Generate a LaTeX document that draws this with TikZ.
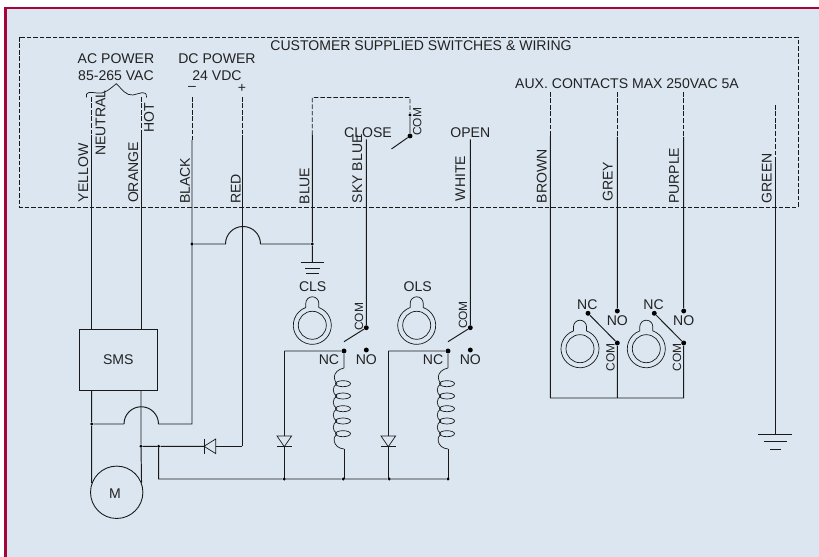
\documentclass[tikz,border=0pt]{standalone}
\usepackage{fontspec}
\setmainfont{Liberation Sans}
\usepackage{tikz}
\definecolor{panelblue}{HTML}{DBE6F0}
\definecolor{panelred}{HTML}{A6053A}
\definecolor{inktext}{HTML}{222222}
\tikzset{
  wire/.style={black!90, line width=0.55pt},
  supplied/.style={black!90, line width=0.5pt, dash pattern=on 2.6pt off 1.1pt},
  thin wire/.style={black!90, line width=0.4pt},
  dot/.style={circle, fill=black, inner sep=0pt, minimum size=1.8pt},
  bigdot/.style={circle, fill=black, inner sep=0pt, minimum size=2.8pt},
  lab/.style={text=inktext, font=\fontsize{8}{9.5}\selectfont, align=center},
  vlab/.style={lab, rotate=90},
  comlab/.style={text=inktext, font=\fontsize{6.8}{8}\selectfont, rotate=90}
}
\begin{document}
\begin{tikzpicture}[scale=0.2]
\tikzstyle{every node}+=[inner sep=0pt]
\useasboundingbox (0,0) rectangle (81.9,-55.7);
\fill [white] (0,0) rectangle (81.9,-55.7);
\fill [panelred] (0.4,-0.7) rectangle (81.9,-55.7);
\fill [panelblue] (0.7,-0.95) rectangle (81.9,-55.7);
\draw [supplied] (1.9,-3.7) rectangle (79.8,-20.7);
% titles
\draw (42.1,-4.6) node (title) [lab] {CUSTOMER SUPPLIED SWITCHES \& WIRING};
\draw (11.6,-6.75) node (acpower) [lab] {AC POWER\\85-265 VAC};
\draw (21.7,-6.75) node (dcpower) [lab] {DC POWER\\24 VDC};
\draw (62.7,-8.4) node (aux) [lab] {AUX. CONTACTS MAX 250VAC 5A};
\draw (19.2,-8.85) node (minus) [lab] {--};
\draw (24.2,-8.85) node (plus) [lab] {+};
% wire ends
\coordinate (yellowtop) at (9.17,-9.7);
\coordinate (yellowmid) at (9.17,-13.5);
\coordinate (orangetop) at (14.1,-9.7);
\coordinate (orangemid) at (14.1,-13.3);
\coordinate (blacktop) at (19.2,-9.7);
\coordinate (blackmid) at (19.2,-14);
\coordinate (redtop) at (24.2,-9.7);
\coordinate (redmid) at (24.2,-13.5);
\coordinate (bluemid) at (31.23,-13.5);
\coordinate (bluetop) at (31.23,-9.75);
\coordinate (comtop) at (41,-9.75);
\coordinate (brownmid) at (55.03,-13.6);
\coordinate (browntop) at (55.03,-9.2);
\coordinate (greymid) at (61.73,-13.7);
\coordinate (greytop) at (61.73,-9.2);
\coordinate (purplemid) at (68.37,-13.7);
\coordinate (purpletop) at (68.37,-9.2);
\coordinate (greenmid) at (77.53,-16.2);
\coordinate (greentop) at (77.53,-10.5);
\coordinate (skytop) at (36.63,-13.95);
\coordinate (whitetop) at (47.03,-13.95);
% dashed wires
\draw [supplied] (yellowtop) -- (yellowmid);
\draw [supplied] (orangetop) -- (orangemid);
\draw [supplied] (blacktop) -- (blackmid);
\draw [supplied] (redtop) -- (redmid);
\draw (41,-11.5) node (comdot) [dot] {};
\draw [supplied] (bluemid) -- (bluetop) -- (comtop) -- (comdot);
\draw [supplied] (browntop) -- (brownmid);
\draw [supplied] (greytop) -- (greymid);
\draw [supplied] (purpletop) -- (purplemid);
\draw [supplied] (greentop) -- (greenmid);
% brace
\draw [thin wire] (8.65,-9.75) .. controls (8.5,-9.15) and (9,-9.2) .. (9.7,-9.3) .. controls (10.4,-9.45) and (11,-8.9) .. (11.63,-8.37) .. controls (12.2,-8.9) and (12.6,-9.6) .. (13.3,-9.5) .. controls (13.9,-9.4) and (14.7,-8.9) .. (14.65,-9.75);
% close switch
\draw (41,-13.6) node (closecom) [bigdot] {};
\coordinate (closearm) at (39.15,-14.9);
\draw [wire] (comdot) -- (closecom);
\draw [wire] (closecom) -- (closearm);
\draw (41.73,-12.17) node (closecomlab) [comlab] {COM};
\draw (36.8,-13.25) node (close) [lab] {CLOSE};
\draw (47.03,-13.25) node (open) [lab] {OPEN};
% colour names
\draw (8.33,-17.3) node (yellowlab) [vlab] {YELLOW};
\draw (10.07,-12.3) node (neutrallab) [vlab] {NEUTRAL};
\draw (13.33,-17.25) node (orangelab) [vlab] {ORANGE};
\draw (14.9,-11.8) node (hotlab) [vlab] {HOT};
\draw (18.5,-18.08) node (blacklab) [vlab] {BLACK};
\draw (23.57,-18.9) node (redlab) [vlab] {RED};
\draw (30.47,-18.6) node (bluelab) [vlab] {BLUE};
\draw (35.73,-16.87) node (skylab) [vlab] {SKY BLUE};
\draw (46.03,-17.85) node (whitelab) [vlab] {WHITE};
\draw (54.17,-17.63) node (brownlab) [vlab] {BROWN};
\draw (60.77,-18.17) node (greylab) [vlab] {GREY};
\draw (67.4,-17.58) node (purplelab) [vlab] {PURPLE};
\draw (76.67,-17.83) node (greenlab) [vlab] {GREEN};
% motor side
\draw (11.83,-35.96) node (sms) [draw=black!90, line width=0.55pt, minimum width=44.2pt, minimum height=34.8pt, lab] {SMS};
\draw (11.67,-49.23) node (motor) [draw=black!90, line width=0.5pt, circle, minimum size=29.8pt] {};
\draw (11.5,-49.4) node (mlab) [lab] {M};
\draw (9.17,-42.4) node (neutraljoin) [dot] {};
\draw (14.1,-44.63) node (hotjoin) [dot] {};
\draw (15.87,-44.63) node (busjoin) [dot] {};
\coordinate (blackend) at (19.2,-42.4);
\coordinate (redend) at (24.2,-44.63);
\coordinate (hump1) at (15.85,-42.4);
\coordinate (hump1end) at (12.4,-42.4);
\draw [wire] (yellowmid) -- (yellowmid |- sms.north);
\draw [wire] (orangemid) -- (orangemid |- sms.north);
\draw [wire] (yellowmid |- sms.south) -- (neutraljoin) -- (motor.160);
\draw [wire] (orangemid |- sms.south) -- (hotjoin) -- (motor.21);
\draw [wire] (blackmid) -- (blackend) -- (hump1) arc (0:180:1.725) -- (hump1end) -- (neutraljoin);
\draw [wire] (redmid) -- (redend);
% diode on the dc feed
\coordinate (dcanode) at (21.57,-44.63);
\coordinate (dccathode) at (20.4,-44.63);
\draw [wire] (redend) -- (dcanode);
\draw [wire] (dccathode) -- (busjoin) -- (hotjoin);
\draw [thin wire] (dccathode) -- (21.57,-43.9) -- (21.57,-45.36) -- cycle;
\draw [thin wire] (20.4,-43.9) -- (20.4,-45.36);
% black to blue, over red
\draw (19.2,-24.4) node (blackjoin) [dot] {};
\draw (31.23,-24.4) node (bluejoin) [dot] {};
\coordinate (hump2) at (22.55,-24.4);
\coordinate (hump2end) at (26.05,-24.4);
\draw [wire] (blackjoin) -- (hump2) arc (180:0:1.75) -- (hump2end) -- (bluejoin);
% blue earth
\coordinate (blueearth) at (31.23,-26.25);
\draw [wire] (bluemid) -- (bluejoin) -- (blueearth);
\draw [wire] (30.07,-26.25) -- (32.4,-26.25);
\draw [wire] (30.5,-26.8) -- (32,-26.8);
\draw [wire] (30.6,-27.35) -- (31.9,-27.35);
% limit switch cams
\foreach \cx/\cy in {31.23/-32.53, 41.67/-32.53, 58/-34.87, 64.63/-34.87} {
  \draw [thin wire] (\cx,\cy) circle (1.4);
  \draw [thin wire] (\cx+0.65,\cy+1.78) arc (70:-250:1.9) -- (\cx-0.65,\cy+2.2) arc (180:0:0.65) -- cycle;
}
\draw (31.27,-28.65) node (cls) [lab] {CLS};
\draw (41.77,-28.65) node (ols) [lab] {OLS};
% close and open limit switches
\foreach \n/\sx/\nx/\bx/\clab/\cy in {a/36.63/34.4/28.43/35.9/-31.67, b/47.03/44.8/38.83/46.3/-31.5} {
  \draw (\sx,-32.77) node (com\n) [bigdot] {};
  \draw (\nx,-35.1) node (nc\n) [bigdot] {};
  \draw (\sx,-35) node (no\n) [bigdot] {};
  \coordinate (arm\n) at (\nx,-34.17);
  \coordinate (busl\n) at (\bx,-47.9);
  \coordinate (busr\n) at (\nx,-47.9);
  \coordinate (cornr\n) at (\bx,-35.1);
  \draw [wire] (com\n) -- (arm\n);
  \draw [wire] (nc\n) -- (cornr\n);
  % freewheel diode
  \coordinate (dtop\n) at (\bx,-43.6);
  \coordinate (dtip\n) at (\bx,-44.67);
  \draw [wire] (cornr\n) -- (dtop\n);
  \draw [wire] (dtip\n) -- (busl\n);
  \draw [thin wire] (\bx-0.73,-43.6) -- (\bx+0.73,-43.6) -- (dtip\n) -- cycle;
  \draw [thin wire] (\bx-0.73,-44.67) -- (\bx+0.73,-44.67);
  % relay coil
  \coordinate (coilt\n) at (\nx,-36.8);
  \coordinate (coilb\n) at (\nx,-44.9);
  \draw [wire] (nc\n) -- (coilt\n);
  \draw [thin wire] (coilt\n) .. controls (\nx-0.55,-36.9) and (\nx-1,-37.3) .. (\nx-0.97,-37.75) .. controls (\nx-0.95,-38) and (\nx-0.85,-38.25) .. (\nx-0.7,-38.37);
  \foreach \ly in {-38.37,-39.6,-40.87,-42.1,-43.37} {
    \draw [thin wire] (\nx-0.1,\ly) ellipse (0.75 and 0.3);
  }
  \foreach \ly in {-38.37,-39.6,-40.87,-42.1} {
    \draw [thin wire] (\nx-0.7,\ly) .. controls (\nx-1.2,\ly-0.25) and (\nx-1.2,\ly-1) .. (\nx-0.7,\ly-1.25);
  }
  \draw [thin wire] (\nx-0.7,-43.37) .. controls (\nx-1.2,-43.7) and (\nx-1.1,-44.8) .. (coilb\n);
  \draw [wire] (coilb\n) -- (busr\n);
  \draw (\nx-1.5,-36) node (nclab\n) [lab] {NC};
  \draw (\sx,-36) node (nolab\n) [lab] {NO};
  \draw (\clab,\cy) node (comlab\n) [comlab] {COM};
}
\draw [wire] (skytop) -- (coma);
\draw [wire] (whitetop) -- (comb);
\draw (28.43,-47.9) node (busdot1) [dot] {};
\draw (34.33,-47.9) node (busdot2) [dot] {};
\draw (38.93,-47.9) node (busdot3) [dot] {};
\draw (44.8,-47.9) node (busdot4) [dot] {};
\coordinate (busstart) at (15.87,-47.9);
\draw [wire] (busjoin) -- (busstart) -- (busdot1) -- (busdot2) -- (busdot3) -- (busdot4);
% aux contacts
\foreach \n/\sx/\nx in {c/61.73/58.8, d/68.37/65.43} {
  \draw (\sx,-34.3) node (com\n) [bigdot] {};
  \draw (\nx,-31.33) node (nc\n) [bigdot] {};
  \draw (\sx,-31.1) node (no\n) [bigdot] {};
  \draw [wire] (com\n) -- (nc\n);
  \draw (\nx-0.07,-30.45) node (nclab\n) [lab] {NC};
  \draw (\sx,-32.05) node (nolab\n) [lab] {NO};
  \draw (\sx-0.67,-35.73) node (comlab\n) [comlab] {COM};
}
\coordinate (brownend) at (55.03,-39.8);
\coordinate (greyend) at (61.73,-39.8);
\coordinate (purpleend) at (68.37,-39.8);
\draw [wire] (greymid) -- (noc);
\draw [wire] (purplemid) -- (nod);
\draw [wire] (brownmid) -- (brownend) -- (greyend) -- (purpleend) -- (comd);
\draw [wire] (comc) -- (greyend);
% green earth
\coordinate (greenearth) at (77.53,-43.4);
\draw [wire] (greenmid) -- (greenearth);
\draw [wire] (75.83,-43.4) -- (79.23,-43.4);
\draw [wire] (76.4,-44.15) -- (78.66,-44.15);
\draw [wire] (77,-44.9) -- (78.06,-44.9);
\end{tikzpicture}
\end{document}
